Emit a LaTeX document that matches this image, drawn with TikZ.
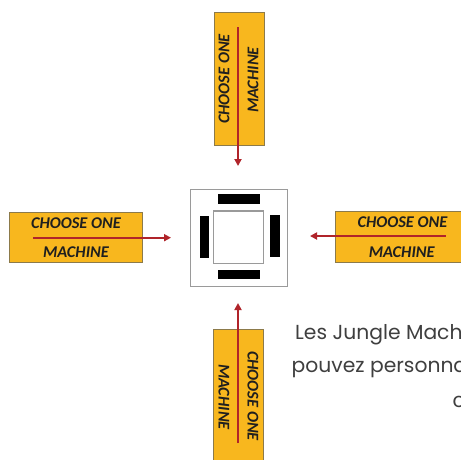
\documentclass[tikz,border=0pt]{standalone}
\usepackage{fontspec}
\usetikzlibrary{arrows.meta}
\newfontfamily\boxfont{Carlito}
\newfontfamily\popfont{Poppins}
\definecolor{boxfill}{HTML}{F8B71E}
\definecolor{boxline}{HTML}{8C7A4A}
\definecolor{arrowred}{HTML}{B0242A}
\definecolor{txtgray}{HTML}{3F3F3F}
\definecolor{sqgray}{HTML}{9A9A9A}
\tikzset{
  machbox/.style={draw=boxline, line width=0.8pt, fill=boxfill, inner sep=0pt},
  boxtext/.style={inner sep=0pt, text=black!88, font=\boxfont\bfseries\itshape\fontsize{16.4}{16.4}\selectfont},
  redarrow/.style={draw=arrowred, line width=1.8pt, -{Triangle[length=7pt,width=7pt]}},
  bar/.style={fill=black, inner sep=0pt},
  para/.style={inner sep=0pt, anchor=base west, text=txtgray, font=\popfont\fontsize{20.3}{20.3}\selectfont}
}
\begin{document}
\begin{tikzpicture}[x=1pt,y=-1pt]
\useasboundingbox (0,0) rectangle (461,459);
\clip (0,0) rectangle (461,459);
\fill[white] (0,0) rectangle (461,459);
% boxes
\node[machbox, minimum width=50pt, minimum height=133pt] (topbox) at (239,78.5) {};
\node[machbox, minimum width=133pt, minimum height=50pt] (leftbox) at (75.5,237) {};
\node[machbox, minimum width=134pt, minimum height=51pt] (rightbox) at (402,236.5) {};
\node[machbox, minimum width=50pt, minimum height=134pt] (botbox) at (238,396) {};
% center square
\node[draw=sqgray, line width=0.9pt, fill=white, minimum width=96.6pt, minimum height=97.7pt, inner sep=0pt] (outer) at (239,237.8) {};
\node[draw=sqgray, line width=1.2pt, fill=white, minimum width=50.4pt, minimum height=52.3pt, inner sep=0pt] (inner) at (238.5,237.2) {};
\node[bar, minimum width=42pt, minimum height=9.7pt] (bartop) at (239.3,199.2) {};
\node[bar, minimum width=42pt, minimum height=9.3pt] (barbot) at (239.3,274.7) {};
\node[bar, minimum width=9.3pt, minimum height=42pt] (barleft) at (204.7,236.7) {};
\node[bar, minimum width=10pt, minimum height=42pt] (barright) at (275,236.3) {};
% arrows
\coordinate (ls) at (33,237.7); \coordinate (lt) at (171,237.7);
\coordinate (rs) at (445.7,236); \coordinate (rt) at (310,236);
\coordinate (ts) at (238,27); \coordinate (tt) at (238,166);
\coordinate (bs) at (238,443); \coordinate (bt) at (238,303);
\draw[redarrow] (ls) -- (lt);
\draw[redarrow] (rs) -- (rt);
\draw[redarrow] (ts) -- (tt);
\draw[redarrow] (bs) -- (bt);
% box texts
\node[boxtext] (l1) at (76,223.5) {CHOOSE ONE};
\node[boxtext] (l2) at (76,252) {MACHINE};
\node[boxtext] (r1) at (402.5,222.5) {CHOOSE ONE};
\node[boxtext] (r2) at (401.7,251.7) {MACHINE};
\node[boxtext, rotate=90] (t1) at (224,79) {CHOOSE ONE};
\node[boxtext, rotate=90] (t2) at (253,80) {MACHINE};
\node[boxtext, rotate=-90] (b1) at (253,396) {CHOOSE ONE};
\node[boxtext, rotate=-90] (b2) at (224,397) {MACHINE};
% paragraph (cut off by the picture's right edge, as in the reference)
\node[para] (p1) at (295,339) {Les Jungle Machi};
\node[para] (p2) at (291.5,372.7) {pouvez personna};
\node[para] (p3) at (452.5,407) {c};
\end{tikzpicture}
\end{document}
